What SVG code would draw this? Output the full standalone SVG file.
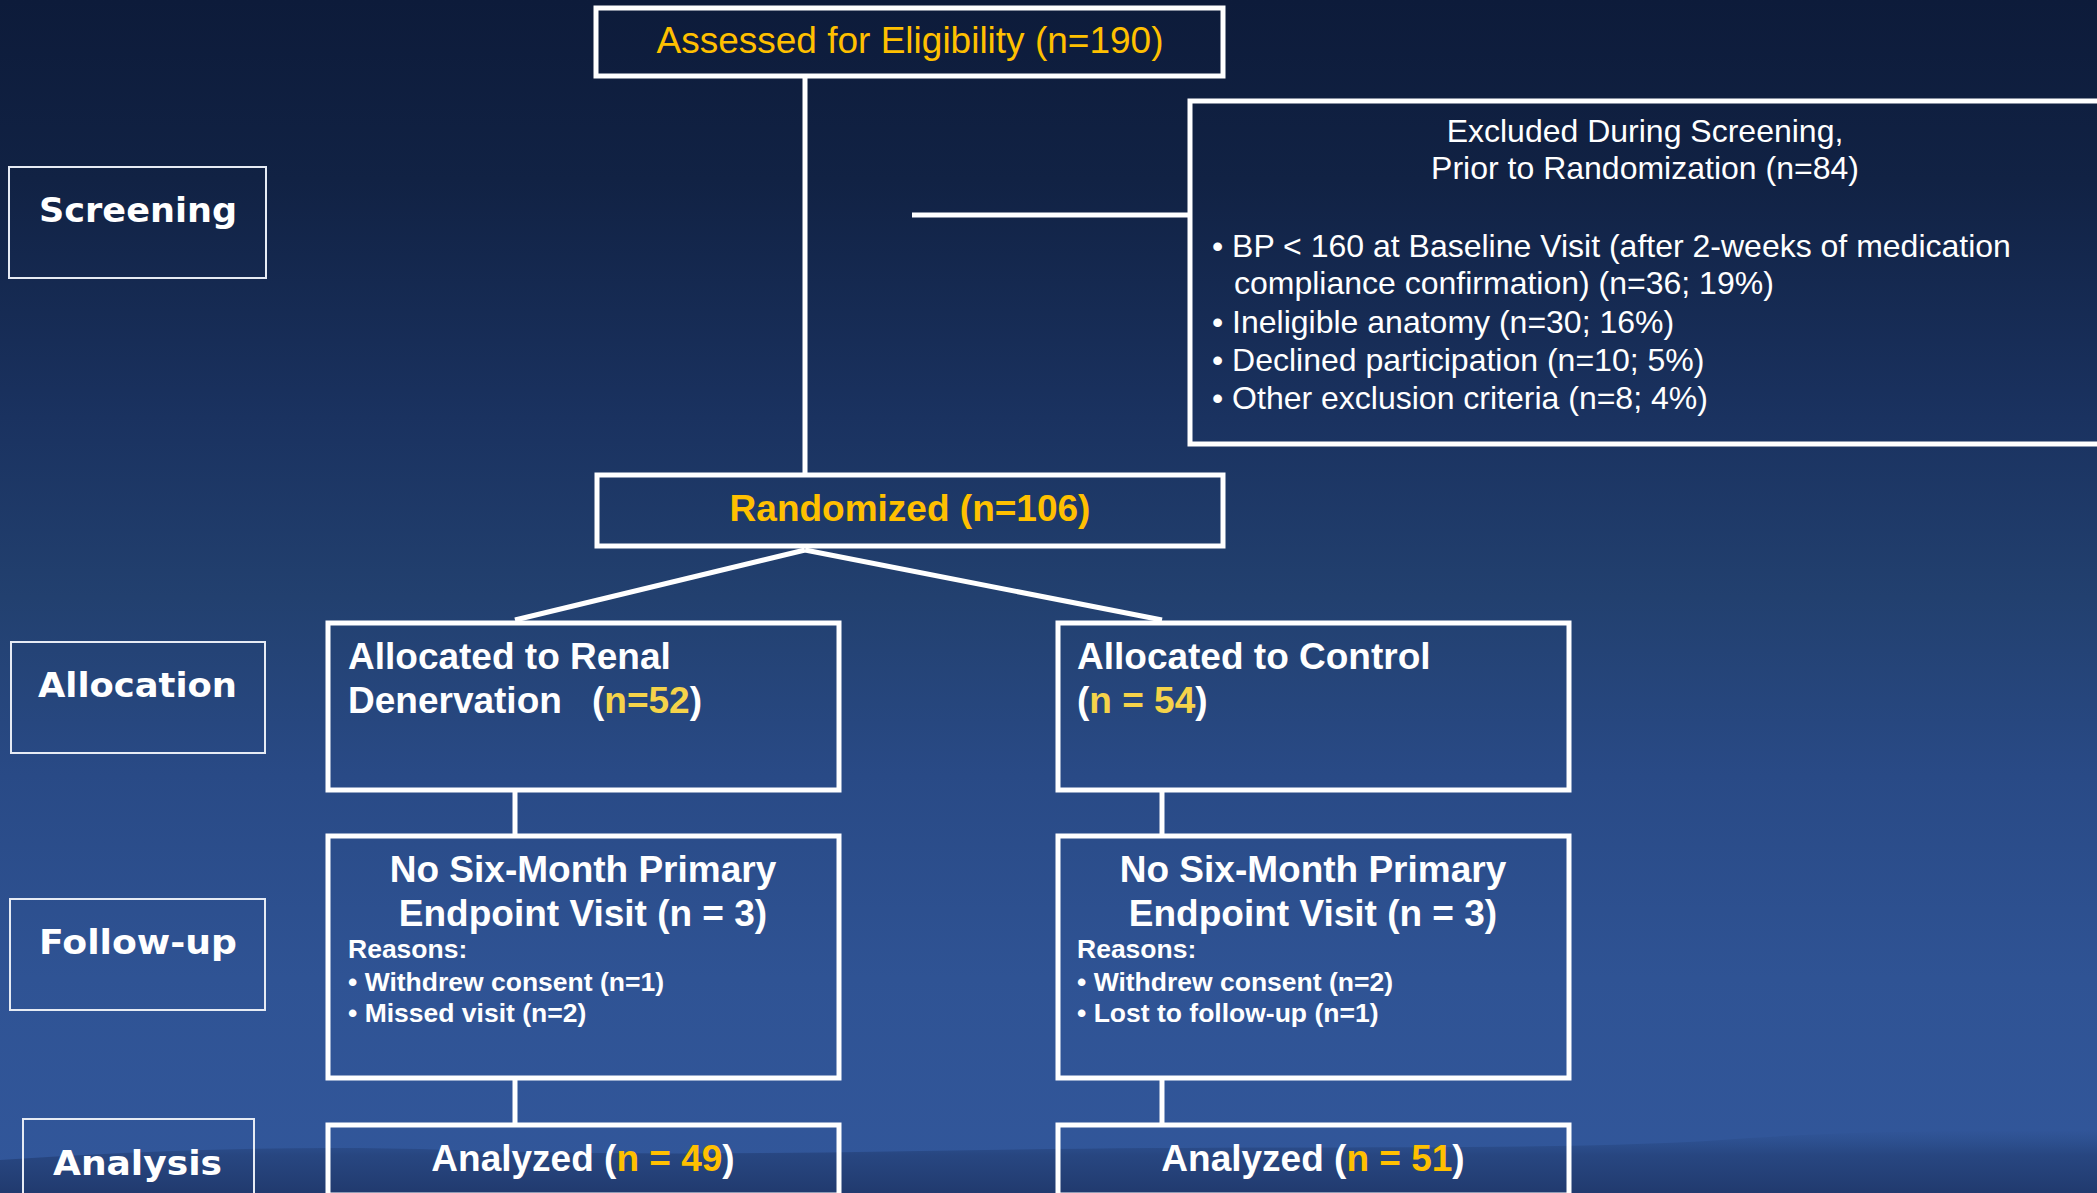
<svg xmlns="http://www.w3.org/2000/svg" width="2097" height="1193" viewBox="0 0 2097 1193">
<defs>
<linearGradient id="bg" x1="0" y1="0" x2="0" y2="1">
<stop offset="0" stop-color="#0d1b3a"/>
<stop offset="0.15" stop-color="#112244"/>
<stop offset="0.35" stop-color="#1a3260"/>
<stop offset="0.5" stop-color="#22406f"/>
<stop offset="0.65" stop-color="#294a86"/>
<stop offset="0.82" stop-color="#2f5394"/>
<stop offset="1" stop-color="#32579b"/>
</linearGradient>
<linearGradient id="mtn" x1="0" y1="0" x2="0" y2="1">
<stop offset="0" stop-color="#26467f" stop-opacity="0"/>
<stop offset="0.4" stop-color="#25427a" stop-opacity="0.8"/>
<stop offset="1" stop-color="#213a6e"/>
</linearGradient>
<style>
.box{fill:none;stroke:#ffffff;stroke-width:5}
.lbl{fill:none;stroke:#e6ebf4;stroke-width:2}
.con{stroke:#ffffff;stroke-width:5;fill:none}
text{font-family:"Liberation Sans",Arial,sans-serif}
.lt{fill:#ffffff;font-size:33px;font-weight:bold;font-family:"DejaVu Sans",Verdana,sans-serif}
.yel{fill:#FFC000}
.ylt{fill:#F5D34A}
.wb{fill:#ffffff;font-weight:bold}
.w{fill:#ffffff}
</style>
</defs>
<rect x="0" y="0" width="2097" height="1193" fill="url(#bg)"/>
<path d="M0,1160 C150,1150 300,1145 450,1150 C700,1158 900,1150 1150,1148 C1400,1146 1600,1150 1750,1138 C1900,1128 2000,1132 2097,1130 L2097,1193 L0,1193 Z" fill="url(#mtn)"/>

<g id="connectors">
<line class="con" x1="805" y1="78" x2="805" y2="473"/>
<line class="con" x1="912" y1="215" x2="1189" y2="215"/>
<line class="con" x1="805" y1="550" x2="515" y2="620"/>
<line class="con" x1="805" y1="550" x2="1162" y2="620"/>
<line class="con" x1="515" y1="790" x2="515" y2="834"/>
<line class="con" x1="1162" y1="790" x2="1162" y2="834"/>
<line class="con" x1="515" y1="1079" x2="515" y2="1123"/>
<line class="con" x1="1162" y1="1079" x2="1162" y2="1123"/>
</g>

<g id="label-screening">
<rect class="lbl" x="9" y="167" width="257" height="111"/>
<text class="lt" x="39" y="222" textLength="198" lengthAdjust="spacingAndGlyphs">Screening</text>
</g>
<g id="label-allocation">
<rect class="lbl" x="11" y="642" width="254" height="111"/>
<text class="lt" x="38" y="697" textLength="199" lengthAdjust="spacingAndGlyphs">Allocation</text>
</g>
<g id="label-followup">
<rect class="lbl" x="10" y="899" width="255" height="111"/>
<text class="lt" x="39" y="954" textLength="198" lengthAdjust="spacingAndGlyphs">Follow-up</text>
</g>
<g id="label-analysis">
<rect class="lbl" x="23" y="1119" width="231" height="90"/>
<text class="lt" x="53" y="1175" textLength="169" lengthAdjust="spacingAndGlyphs">Analysis</text>
</g>

<g id="node-assessed">
<rect class="box" x="596" y="8" width="627" height="68"/>
<text class="yel" x="910" y="53" font-size="37" text-anchor="middle">Assessed for Eligibility (n=190)</text>
</g>

<g id="node-excluded">
<rect class="box" x="1190" y="101" width="1000" height="343"/>
<text class="w" x="1645" y="142" font-size="32" text-anchor="middle">Excluded During Screening,</text>
<text class="w" x="1645" y="179" font-size="32" text-anchor="middle">Prior to Randomization (n=84)</text>
<text class="w" x="1212" y="257" font-size="32">• BP &lt; 160 at Baseline Visit (after 2-weeks of medication</text>
<text class="w" x="1234" y="294" font-size="32">compliance confirmation) (n=36; 19%)</text>
<text class="w" x="1212" y="333" font-size="32">• Ineligible anatomy (n=30; 16%)</text>
<text class="w" x="1212" y="371" font-size="32">• Declined participation (n=10; 5%)</text>
<text class="w" x="1212" y="409" font-size="32">• Other exclusion criteria (n=8; 4%)</text>
</g>

<g id="node-randomized">
<rect class="box" x="597" y="475" width="626" height="71"/>
<text class="yel" x="910" y="521" font-size="37" font-weight="bold" text-anchor="middle">Randomized (n=106)</text>
</g>

<g id="node-alloc-rdn">
<rect class="box" x="328" y="623" width="511" height="167"/>
<text class="wb" x="348" y="669" font-size="37">Allocated to Renal</text>
<text class="wb" x="348" y="713" font-size="37">Denervation <tspan x="592">(</tspan><tspan class="ylt">n=52</tspan>)</text>
</g>

<g id="node-alloc-control">
<rect class="box" x="1058" y="623" width="511" height="167"/>
<text class="wb" x="1077" y="669" font-size="37">Allocated to Control</text>
<text class="wb" x="1077" y="713" font-size="37">(<tspan class="ylt">n = 54</tspan>)</text>
</g>

<g id="node-fu-rdn">
<rect class="box" x="328" y="836" width="511" height="242"/>
<text class="wb" x="583" y="882" font-size="37" text-anchor="middle">No Six-Month Primary</text>
<text class="wb" x="583" y="926" font-size="37" text-anchor="middle">Endpoint Visit (n = 3)</text>
<text class="wb" x="348" y="958" font-size="26.5">Reasons:</text>
<text class="wb" x="348" y="991" font-size="26.5">• Withdrew consent (n=1)</text>
<text class="wb" x="348" y="1022" font-size="26.5">• Missed visit (n=2)</text>
</g>

<g id="node-fu-control">
<rect class="box" x="1058" y="836" width="511" height="242"/>
<text class="wb" x="1313" y="882" font-size="37" text-anchor="middle">No Six-Month Primary</text>
<text class="wb" x="1313" y="926" font-size="37" text-anchor="middle">Endpoint Visit (n = 3)</text>
<text class="wb" x="1077" y="958" font-size="26.5">Reasons:</text>
<text class="wb" x="1077" y="991" font-size="26.5">• Withdrew consent (n=2)</text>
<text class="wb" x="1077" y="1022" font-size="26.5">• Lost to follow-up (n=1)</text>
</g>

<g id="node-analyzed-rdn">
<rect class="box" x="328" y="1125" width="511" height="70"/>
<text class="wb" x="583" y="1171" font-size="37" text-anchor="middle">Analyzed (<tspan class="yel">n = 49</tspan>)</text>
</g>

<g id="node-analyzed-control">
<rect class="box" x="1058" y="1125" width="511" height="70"/>
<text class="wb" x="1313" y="1171" font-size="37" text-anchor="middle">Analyzed (<tspan class="yel">n = 51</tspan>)</text>
</g>
</svg>
